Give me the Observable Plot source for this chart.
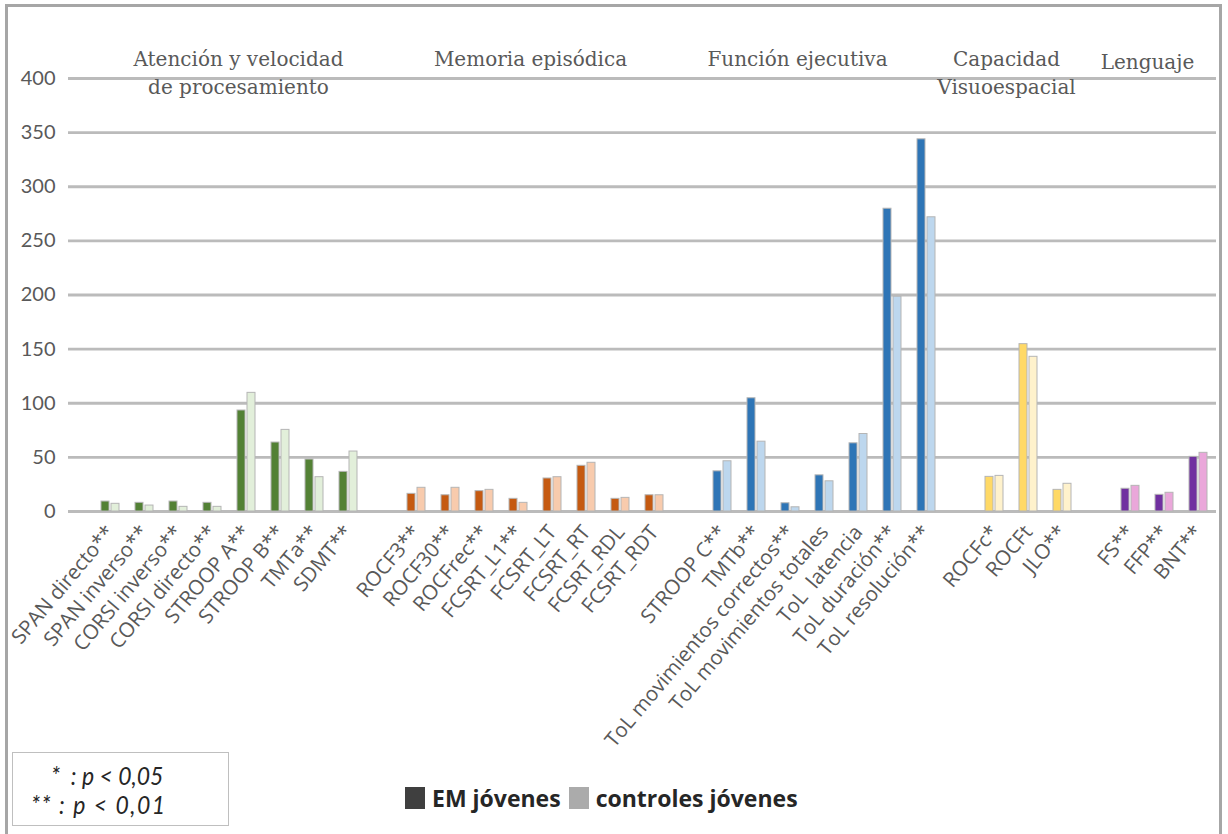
<!DOCTYPE html>
<html>
<head>
<meta charset="utf-8">
<script src="https://cdn.jsdelivr.net/npm/d3@7"></script>
<script src="https://cdn.jsdelivr.net/npm/@observablehq/plot@0.6"></script>
<style>
  html, body { margin: 0; padding: 0; background: #fff; overflow: hidden; }
  #wrap { position: relative; width: 1228px; height: 834px; overflow: hidden; background: #fff; }
  #frame { position: absolute; left: 5px; top: 4px; width: 1217px; height: 850px; border: 3px solid #A6A6A6; box-sizing: border-box; pointer-events: none; }
  #chart { position: absolute; left: 0; top: 0; }
  #pbox { position: absolute; left: 12px; top: 752px; width: 217px; height: 74px; border: 1px solid #BFBFBF; box-sizing: border-box; background: #fff;
          font-family: Lato, "Open Sans", sans-serif; font-style: italic; font-size: 23px; color: #262626; }
  #pbox div { position: absolute; white-space: pre; line-height: 1; transform: scaleY(1.12); transform-origin: left center; }
  #legend { position: absolute; left: 405px; top: 782px; display: flex; align-items: center; font-family: "Open Sans", Lato, sans-serif; font-weight: bold; font-size: 23px; color: #262626; }
  #legend .sw { width: 20px; height: 22px; margin-right: 7px; }
  #legend .item { display: flex; align-items: center; margin-right: 8px; }
</style>
</head>
<body>
<div id="wrap">
  <div id="chart"></div>
  <div id="frame"></div>
  <div id="pbox"><div style="top:11px; left:38px">*  : p &lt; 0,05</div><div style="top:40px; left:18px; letter-spacing:1.5px">** : p &lt; 0,01</div></div>
  <div id="legend"></div>
</div>
<script>
// ---- Data ----
const tests = [
  "SPAN directo**", "SPAN inverso**", "CORSI inverso**", "CORSI directo**", "STROOP A**", "STROOP B**", "TMTa**", "SDMT**",
  "_gap1",
  "ROCF3**", "ROCF30**", "ROCFrec**", "FCSRT_L1**", "FCSRT_LT", "FCSRT_RT", "FCSRT_RDL", "FCSRT_RDT",
  "_gap2",
  "STROOP C**", "TMTb**", "ToL movimientos correctos**", "ToL movimientos totales", "ToL  latencia", "ToL duración**", "ToL resolución**",
  "_gap3",
  "ROCFc*", "ROCFt", "JLO**",
  "_gap4",
  "FS**", "FFP**", "BNT**"
];
const testGroup = [
  0,0,0,0,0,0,0,0, null,
  1,1,1,1,1,1,1,1, null,
  2,2,2,2,2,2,2, null,
  3,3,3, null,
  4,4,4
];
const emValues = [
  9.2, 8.0, 9.2, 8.0, 93.3, 63.7, 48.0, 36.6, null,
  16.3, 15.0, 18.8, 11.7, 30.5, 42.2, 11.7, 15.0, null,
  37.1, 104.6, 7.6, 33.4, 63.0, 279.7, 343.8, null,
  32.0, 154.6, 20.0, null,
  21.0, 15.4, 50.5
];
const controlValues = [
  7.1, 5.5, 4.3, 4.3, 109.6, 75.4, 31.7, 55.4, null,
  21.9, 21.9, 20.0, 8.0, 31.7, 45.0, 12.6, 15.0, null,
  46.4, 64.5, 3.9, 27.9, 71.6, 198.4, 271.8, null,
  32.9, 142.9, 25.6, null,
  23.7, 17.3, 54.2
];
const groupNames = [
  "Atención y velocidad\nde procesamiento",
  "Memoria episódica",
  "Función ejecutiva",
  "Capacidad\nVisuoespacial",
  "Lenguaje"
];
const seriesNames = ["EM jóvenes", "controles jóvenes"];
const darkColors  = ["#538135", "#C55A11", "#2E75B6", "#FFD966", "#7030A0"];
const lightColors = ["#E2EFDA", "#F8CBAD", "#BDD7EE", "#FFF2CC", "#EAA7DA"];
const yTicks = [0, 50, 100, 150, 200, 250, 300, 350, 400];

// ---- Build tables ----
const emRows = [], ctRows = [];
tests.forEach((t, i) => {
  if (testGroup[i] === null) return;
  emRows.push({test: t, value: emValues[i], group: testGroup[i]});
  ctRows.push({test: t, value: controlValues[i], group: testGroup[i]});
});

// group title placement (anchor category + pixel offset)
const titleLayout = [
  {anchor: "CORSI directo**", dx: 26, dy: -32},
  {anchor: "FCSRT_L1**", dx: 12, dy: -32},
  {anchor: "ToL movimientos correctos**", dx: 7, dy: -32},
  {anchor: "ROCFc*", dx: 12, dy: -32},
  {anchor: "FS**", dx: 17, dy: -29}
];

const barStroke = "#B5B5B5";
const titleMarks = groupNames.map((name, i) => Plot.text([name], {
  x: () => titleLayout[i].anchor,
  frameAnchor: "top",
  lineAnchor: "top",
  dx: titleLayout[i].dx,
  dy: titleLayout[i].dy,
  text: d => d,
  fontFamily: "DejaVu Serif",
  fontSize: 20,
  lineHeight: 1.4,
  fill: "#595959"
}));

const chart = Plot.plot({
  width: 1228,
  height: 760,
  marginLeft: 68,
  marginRight: 12,
  marginTop: 78,
  marginBottom: 249,
  style: {fontFamily: "Lato, 'Open Sans', sans-serif", color: "#595959", background: "transparent", overflow: "visible"},
  x: {domain: tests, padding: 0, insetLeft: 24, insetRight: 0, label: null},
  y: {domain: [0, 400], label: null},
  marks: [
    Plot.ruleY(yTicks, {stroke: "#BBBBBB", strokeWidth: 2.8}),
    Plot.barY(emRows, {x: "test", y: "value", fill: d => darkColors[d.group], stroke: barStroke, strokeWidth: 1, insetLeft: 8, insetRight: 18}),
    Plot.barY(ctRows, {x: "test", y: "value", fill: d => lightColors[d.group], stroke: barStroke, strokeWidth: 1, insetLeft: 18, insetRight: 8}),
    Plot.axisY({ticks: yTicks, tickSize: 0, tickPadding: 13, fontSize: 20, label: null, fill: "#595959"}),
    Plot.axisX({tickSize: 0, tickPadding: 17, tickRotate: -50, fontSize: 20.5, fontFamily: "'Open Sans', Lato, sans-serif", label: null, fill: "#595959",
      tickFormat: d => d.startsWith("_gap") ? "" : d}),
    ...titleMarks
  ]
});
document.getElementById("chart").appendChild(chart);

// legend
const leg = document.getElementById("legend");
const swatchColors = ["#3F3F3F", "#ABABAB"];
seriesNames.forEach((n, i) => {
  const item = document.createElement("div");
  item.className = "item";
  item.innerHTML = `<span class="sw" style="background:${swatchColors[i]}"></span><span>${n}</span>`;
  leg.appendChild(item);
});
</script>
</body>
</html>
